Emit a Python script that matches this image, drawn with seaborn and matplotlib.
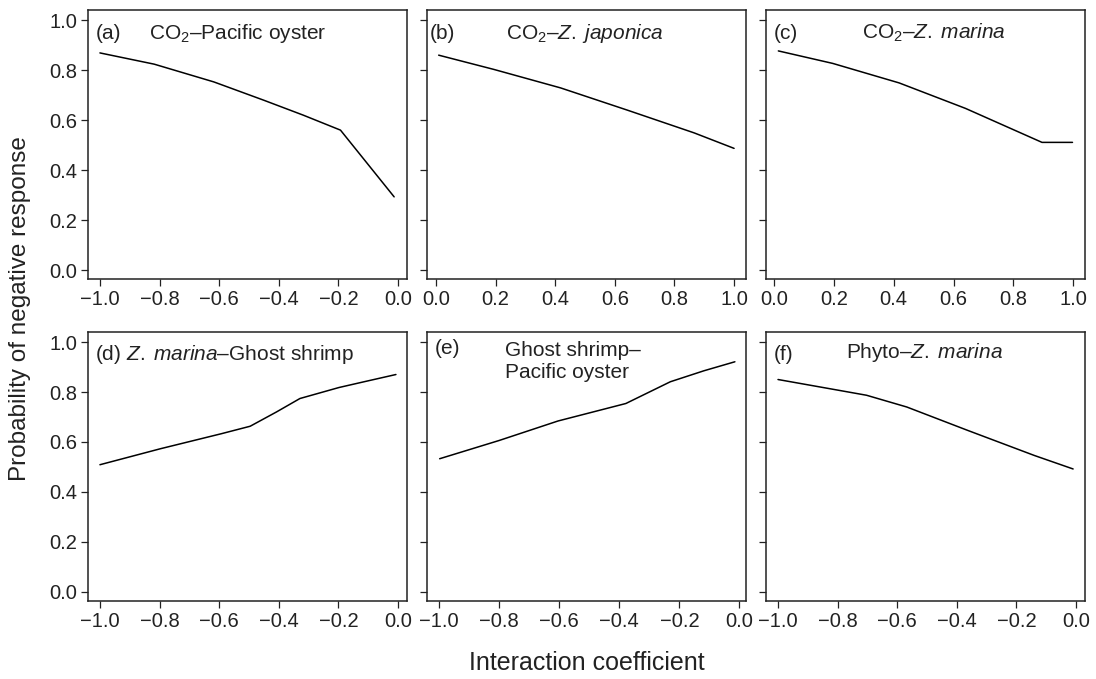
import pandas as pd
import matplotlib
matplotlib.use("Agg")
import matplotlib.pyplot as plt
import seaborn as sns

# valeurs
a_x = [-1.0, -0.818, -0.618, -0.451, -0.318, -0.193, -0.013]
a_y = [0.869, 0.824, 0.753, 0.68, 0.62, 0.56, 0.293]

b_x = [0.009, 0.194, 0.418, 0.642, 0.866, 1.0]
b_y = [0.86, 0.803, 0.729, 0.64, 0.549, 0.487]

c_x = [0.014, 0.196, 0.418, 0.64, 0.896, 0.998]
c_y = [0.877, 0.827, 0.749, 0.647, 0.511, 0.511]

d_x = [-1.0, -0.797, -0.593, -0.496, -0.408, -0.329, -0.198, -0.114, -0.007]
d_y = [0.509, 0.573, 0.633, 0.663, 0.72, 0.774, 0.818, 0.841, 0.870]

e_x = [-0.998, -0.80, -0.604, -0.378, -0.23, -0.118, -0.015]
e_y = [0.533, 0.606, 0.684, 0.754, 0.841, 0.885, 0.921]

f_x = [-1.0, -0.797, -0.703, -0.568, -0.365, -0.14, -0.01]
f_y = [0.85, 0.807, 0.787, 0.74, 0.647, 0.546, 0.492]

xlims = [(-1.04, 0.03), (-0.03, 1.04), (-0.027, 1.04),
         (-1.04, 0.03), (-1.04, 0.022), (-1.04, 0.03)]
xticks = [[-1.0, -0.8, -0.6, -0.4, -0.2, 0.0],
          [0.0, 0.2, 0.4, 0.6, 0.8, 1.0],
          [0.0, 0.2, 0.4, 0.6, 0.8, 1.0],
          [-1.0, -0.8, -0.6, -0.4, -0.2, 0.0],
          [-1.0, -0.8, -0.6, -0.4, -0.2, 0.0],
          [-1.0, -0.8, -0.6, -0.4, -0.2, 0.0]]
yticks = [0.0, 0.2, 0.4, 0.6, 0.8, 1.0]

lettres = ["(a)", "(b)", "(c)", "(d)", "(e)", "(f)"]
titres = [r"CO$_2$–Pacific oyster",
          r"CO$_2$–$\it{Z.\;japonica}$",
          r"CO$_2$–$\it{Z.\;marina}$",
          None,
          "Ghost shrimp–\nPacific oyster",
          r"Phyto–$\it{Z.\;marina}$"]
titre_pos = [(0.47, 0.915, "center"), (0.495, 0.915, "center"), (0.525, 0.915, "center"),
             None, (0.245, 0.89, "left"), (0.495, 0.925, "center")]
lettre_pos = [(0.025, 0.915), (0.01, 0.915), (0.025, 0.915),
              None, (0.025, 0.94), (0.025, 0.915)]

series = [(a_x, a_y), (b_x, b_y), (c_x, c_y), (d_x, d_y), (e_x, e_y), (f_x, f_y)]

sns.set_style("ticks")
plt.rcParams['font.family'] = ['Liberation Sans', 'DejaVu Sans']
plt.rcParams['mathtext.fontset'] = 'custom'
plt.rcParams['mathtext.rm'] = 'Liberation Sans'
plt.rcParams['mathtext.it'] = 'Liberation Sans:italic'
plt.rcParams['axes.edgecolor'] = '#222222'
plt.rcParams['xtick.color'] = '#222222'
plt.rcParams['ytick.color'] = '#222222'
plt.rcParams['text.color'] = '#222222'

fig, axes = plt.subplots(2, 3, figsize=(10.96, 6.79), dpi=100)
fig.subplots_adjust(left=0.0803, right=0.99, top=0.985, bottom=0.115,
                    wspace=0.063, hspace=0.197)

for i, ax in enumerate(axes.flat):
    xs, ys = series[i]
    df = pd.DataFrame({"x": xs, "y": ys})
    sns.lineplot(data=df, x="x", y="y", ax=ax, color="black", linewidth=1.1,
                 estimator=None, sort=False)
    ax.set_xlim(*xlims[i])
    ax.set_ylim(-0.036, 1.04)
    ax.set_xticks(xticks[i])
    ax.set_xticklabels([f"{t:.1f}".replace("-", "−") for t in xticks[i]])
    ax.set_yticks(yticks)
    if i % 3 == 0:
        ax.set_yticklabels([f"{t:.1f}" for t in yticks])
    else:
        ax.set_yticklabels([])
    ax.tick_params(direction="out", length=5, width=0.9, labelsize=14.5, pad=3)
    for sp in ax.spines.values():
        sp.set_linewidth(1.1)
    ax.set_xlabel("")
    ax.set_ylabel("")

    if i == 3:
        ax.text(0.022, 0.915, r"(d) $\it{Z.\;marina}$–Ghost shrimp",
                transform=ax.transAxes, fontsize=15, va="center", ha="left")
    else:
        lx, ly = lettre_pos[i]
        ax.text(lx, ly, lettres[i], transform=ax.transAxes, fontsize=15,
                va="center", ha="left")
        tx, ty, ha = titre_pos[i]
        ax.text(tx, ty, titres[i], transform=ax.transAxes, fontsize=15,
                va="center", ha=ha, linespacing=1.2)

fig.text(0.018, 0.546, "Probability of negative response", rotation=90,
         fontsize=17.5, va="center", ha="center")
fig.text(0.535, 0.024, "Interaction coefficient", fontsize=18,
         va="center", ha="center")

fig.savefig("out.png", dpi=100)
